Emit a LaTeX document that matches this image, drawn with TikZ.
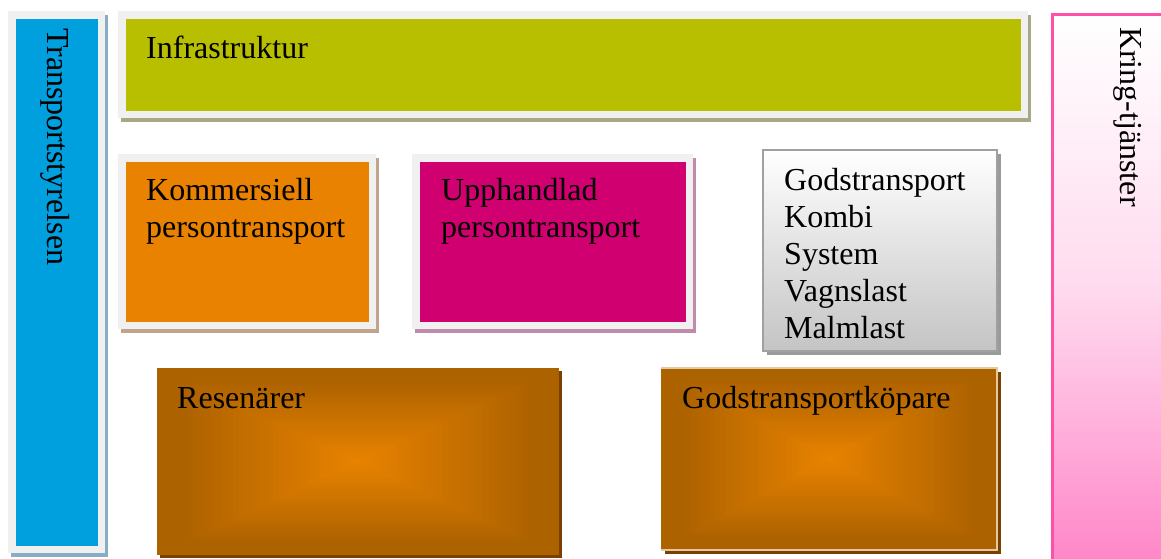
\documentclass[tikz,border=0pt]{standalone}
\usepackage{fontspec}
\setmainfont{Liberation Serif}
\usetikzlibrary{calc,shadows}

\definecolor{framegray}{HTML}{F0F0F0}
\definecolor{tsblue}{HTML}{00A0DE}
\definecolor{blueshadow}{HTML}{88AEC5}
\definecolor{infragreen}{HTML}{B8BE00}
\definecolor{greenshadow}{HTML}{A8A884}
\definecolor{kommorange}{HTML}{E88200}
\definecolor{orangeshadow}{HTML}{C0A58C}
\definecolor{upphmagenta}{HTML}{D00070}
\definecolor{magentashadow}{HTML}{C08AAA}
\definecolor{godsline}{HTML}{A0A0A0}
\definecolor{godsbottom}{HTML}{C4C4C4}
\definecolor{godsshadow}{HTML}{9A9A9A}
\definecolor{brownedge}{HTML}{AD6200}
\definecolor{browncenter}{HTML}{E88200}
\definecolor{brownshadow}{HTML}{7A4000}
\definecolor{kopline}{HTML}{E6C8A0}
\definecolor{pinkline}{HTML}{FF50A8}
\definecolor{pinkbottom}{HTML}{FF86C8}

\begin{document}
\begin{tikzpicture}[x=1pt,y=-1pt,
  box/.style={anchor=north west, inner sep=0pt, outer sep=0pt},
  framed/.style={box, draw=framegray, line width=7.5pt,
    general shadow={fill=#1, draw=#1, line width=7.5pt, shadow xshift=3pt, shadow yshift=-4pt}},
  lbl/.style={anchor=base west, inner sep=0pt, align=left, font=\fontsize{32}{37}\selectfont}]
  \useasboundingbox (0,0) rectangle (1161,558);

  % side bars
  \node[framed=blueshadow, fill=tsblue, minimum width=89.5pt, minimum height=534.5pt] (ts) at (11.75,14.75) {};
  \node[box, draw=pinkline, line width=2.5pt, top color=white, bottom color=pinkbottom,
    middle color=pinkbottom!30!white, minimum width=200pt, minimum height=548pt] (kt) at (1052.25,14.25) {};

  % top row
  \node[framed=greenshadow, fill=infragreen, minimum width=902.5pt, minimum height=99.5pt] (infra) at (121.75,14.75) {};

  % middle row
  \node[framed=orangeshadow, fill=kommorange, minimum width=250.5pt, minimum height=167.5pt] (komm) at (121.75,157.75) {};
  \node[framed=magentashadow, fill=upphmagenta, minimum width=273.5pt, minimum height=167.5pt] (upph) at (415.75,157.75) {};
  \node[box, draw=godsline, line width=2pt, top color=white, bottom color=godsbottom,
    general shadow={fill=godsshadow, shadow xshift=4pt, shadow yshift=-4pt},
    minimum width=234pt, minimum height=201pt] (gods) at (763,150) {};

  % bottom row, rectangular gradient from the middle out
  \node[box, fill=brownedge, general shadow={fill=brownshadow, shadow xshift=3pt, shadow yshift=-3pt},
    minimum width=402pt, minimum height=187pt] (res) at (157,368) {};
  \node[box, fill=brownedge, general shadow={fill=brownshadow, shadow xshift=4pt, shadow yshift=-4pt},
    minimum width=336pt, minimum height=182pt] (kop) at (661,368) {};
  \foreach \bx in {res,kop}{
    \foreach \i in {1,...,30}{
      \pgfmathsetmacro\frc{0.12+0.86*\i/30}
      \pgfmathsetmacro\pct{100*\i/30}
      \fill[browncenter!\pct!brownedge] ($(\bx.north west)!\frc!(\bx.center)$) rectangle ($(\bx.south east)!\frc!(\bx.center)$);
    }
  }
  \draw[kopline, line width=1.5pt] (kop.north west) -- (kop.north east) -- (kop.south east) -- (kop.south west);

  % labels (base anchor sits on the last line)
  \node[lbl, rotate=-90] (ts-t) at ($(ts.north west)+(35.25,13.25)$) {Transportstyrelsen};
  \node[lbl, rotate=-90] (kt-t) at ($(kt.north west)+(67.75,12.75)$) {Kring-tjänster};
  \node[lbl] (infra-t) at ($(infra.north west)+(24.25,43.25)$) {Infrastruktur};
  \node[lbl] (komm-t) at ($(komm.north west)+(24.25,79.25)$) {Kommersiell\\persontransport};
  \node[lbl] (upph-t) at ($(upph.north west)+(25.25,79.25)$) {Upphandlad\\persontransport};
  \node[lbl] (gods-t) at ($(gods.north west)+(21,188)$) {Godstransport\\Kombi\\System\\Vagnslast\\Malmlast};
  \node[lbl] (res-t) at ($(res.north west)+(20,40)$) {Resenärer};
  \node[lbl] (kop-t) at ($(kop.north west)+(21,40)$) {Godstransportköpare};
\end{tikzpicture}
\end{document}
